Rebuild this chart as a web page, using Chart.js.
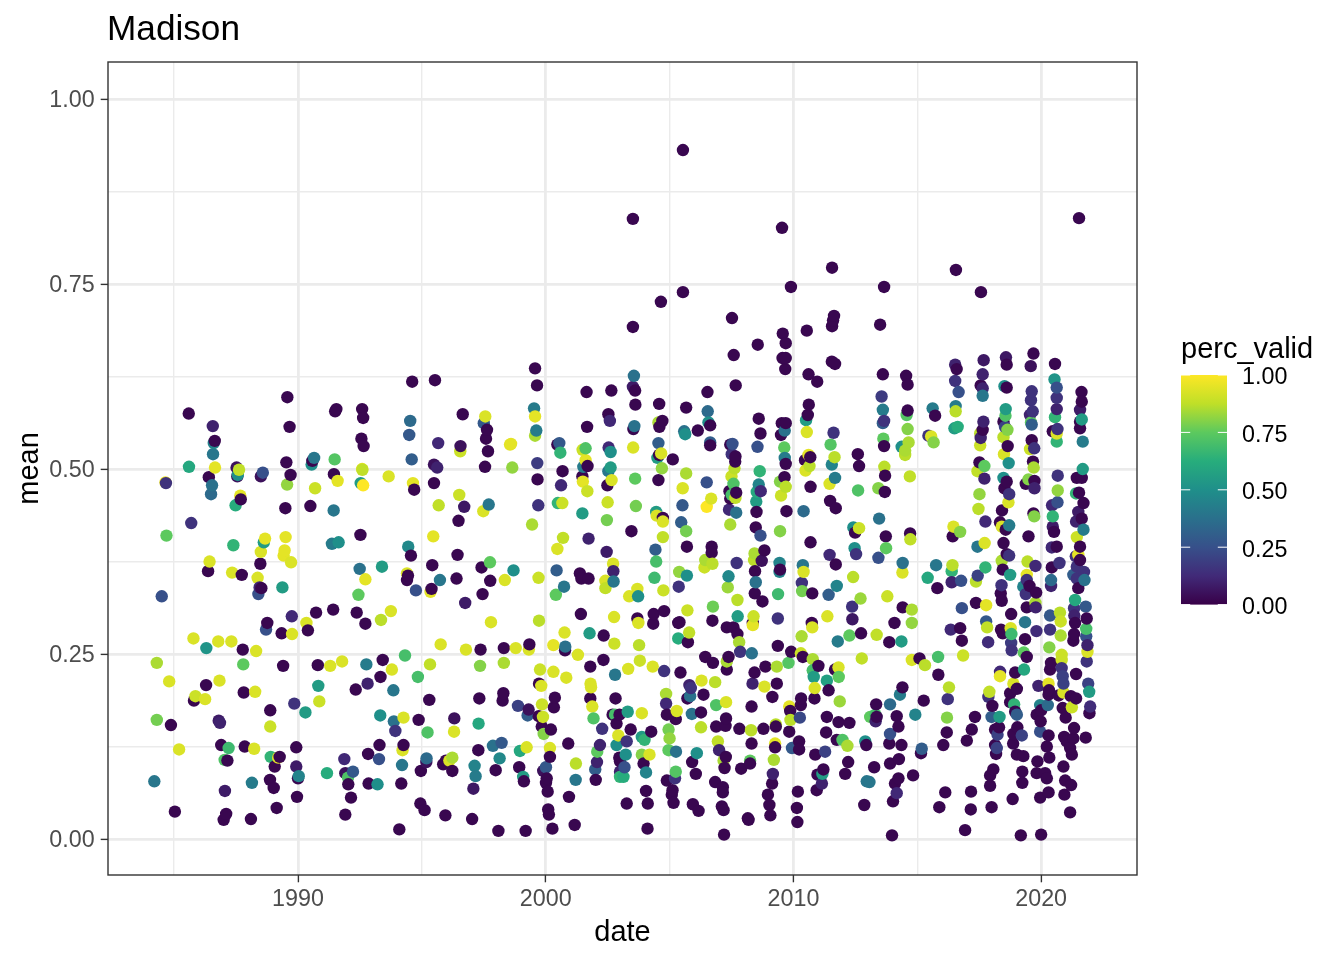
<!DOCTYPE html>
<html lang="en">
<head>
<meta charset="UTF-8" />
<title>Madison</title>
<script src="https://cdn.jsdelivr.net/npm/chart.js"></script>
<style>
  html, body { margin: 0; background: #fff; }
  canvas { display: block; }
</style>
</head>
<body>
<canvas id="chart" width="1344" height="960"></canvas>
<script>
// values, one block per stretch of years
const dates1 = [
  1984.2,1984.3,1984.3,1984.5,1984.65,1984.67,1984.69,1984.8,1984.87,1985.03,
  1985.2,1985.59,1985.6,1985.69,1985.78,1985.8,1985.86,1986.25,1986.29,1986.3,
  1986.37,1986.43,1986.4,1986.49,1986.53,1986.57,1986.6,1986.64,1986.56,1986.65,
  1986.78,1986.83,1986.8,1986.85,1986.9,1987.04,1987.15,1987.2,1987.05,1987.1,
  1987.0,1987.31,1987.34,1987.39,1987.48,1987.52,1987.55,1987.57,1987.62,1987.67,
  1987.69,1987.73,1987.77,1987.79,1987.81,1987.85,1988.1,1988.14,1988.23,1988.27,
  1988.31,1988.37,1988.4,1988.45,1988.52,1988.48,1988.5,1988.62,1988.67,1988.5,
  1988.58,1988.71,1988.76,1988.88,1988.88,1988.9,1989.2,1989.26,1989.06,1988.87,
  1989.34,1989.4,1989.42,1989.46,1989.5,1989.72,1989.49,1989.56,1989.53,1989.7,
  1989.14,1989.02,1989.66,1989.57,1989.37,1989.75,1989.76,1989.85,1989.93,1989.93,
  1990.0,1990.03,1989.96,1990.3,1990.34,1990.4,1990.5,1990.55,1990.58,1990.65,
  1990.69,1990.73,1990.8,1990.82,1990.86,1991.17,1991.3,1991.37,1991.64,1991.44,
  1991.42,1991.45,1991.48,1991.6,1991.5,1991.55,1991.78,1991.87,1991.91,1992.03,
  1992.02,1992.22,1992.14,1991.91,1992.33,1992.37,1992.44,1992.49,1992.52,1992.53,
  1992.59,1992.6,1992.63,1992.56,1992.65,1992.59,1992.63,1992.72,1992.72,1992.76,
  1992.81,1992.83,1992.85
];
const means1 = [
  .078,.161,.238,.328,.482,.481,.41,.213,.154,.037,
  .121,.575,.503,.427,.271,.187,.193,.189,.208,.258,
  .362,.375,.489,.466,.478,.52,.535,.538,.558,.502,
  .267,.214,.16,.157,.127,.107,.106,.123,.065,.034,
  .026,.267,.36,.397,.451,.502,.49,.492,.499,.464,
  .459,.357,.256,.236,.198,.125,.027,.076,.122,.199,
  .254,.353,.331,.34,.339,.372,.388,.401,.406,.49,
  .495,.283,.292,.174,.152,.111,.11,.111,.098,.08,
  .278,.234,.383,.39,.408,.374,.447,.479,.509,.492,
  .042,.069,.557,.597,.34,.301,.277,.183,.124,.098,
  .082,.085,.057,.171,.292,.282,.45,.506,.511,.515,
  .474,.306,.235,.207,.186,.089,.234,.399,.401,.444,
  .31,.493,.513,.484,.578,.581,.24,.108,.089,.074,
  .083,.091,.056,.033,.202,.306,.33,.365,.411,.481,
  .5,.499,.478,.541,.531,.581,.569,.291,.351,.236,
  .21,.115,.075
];
const valid1 = [
  .4,.78,.85,.25,.97,.15,.75,.93,.02,.02,
  .93,.02,.6,.15,.93,.02,.9,.93,.02,.52,
  .02,.93,.02,.35,.38,.4,.45,.02,.1,.95,
  .93,.93,.08,.1,.02,.72,.02,.68,.08,.02,
  .02,.93,.93,.65,.62,.05,.05,.5,.88,.95,
  .02,.02,.02,.75,.02,.02,.02,.42,.93,.93,
  .93,.93,.25,.12,.02,.02,.93,.55,.95,.05,
  .25,.25,.02,.02,.9,.65,.95,.02,.02,.02,
  .02,.02,.95,.95,.95,.93,.02,.82,.02,.02,
  .02,.02,.02,.02,.55,.12,.93,.15,.02,.08,
  .02,.45,.02,.55,.93,.02,.02,.5,.02,.4,
  .9,.02,.02,.55,.9,.62,.93,.42,.5,.4,
  .02,.02,.73,.95,.02,.02,.93,.12,.05,.02,
  .72,.28,.02,.02,.02,.02,.75,.38,.02,.55,
  .95,.88,1,.02,.02,.02,.02,.02,.95,.42,
  .1,.02,.02
];

const dates2 = [
  1993.21,1993.29,1993.27,1993.33,1993.35,1993.39,1993.42,1993.66,1993.75,1993.79,
  1993.85,1993.32,1993.87,1993.93,1994.09,1994.17,1994.2,1994.22,1994.26,1994.26,
  1994.32,1994.4,1994.4,1994.44,1994.45,1994.56,1994.49,1994.53,1994.59,1994.61,
  1994.64,1994.69,1994.76,1994.84,1994.87,1994.94,1995.11,1994.96,1995.18,1995.19,
  1995.23,1995.3,1995.33,1995.35,1995.39,1995.42,1995.46,1995.49,1995.49,1995.62,
  1995.66,1995.53,1995.68,1995.73,1995.76,1995.95,1995.86,1995.97,1996.11,1996.23,
  1996.23,1996.31,1996.3,1996.4,1996.44,1996.48,1996.51,1996.55,1996.56,1996.65,
  1996.71,1996.75,1996.78,1997.03,1997.08,1997.17,1997.13,1997.29,1997.28,1997.32,
  1997.35,1997.37,1997.41,1997.45,1997.48,1997.5,1997.56,1997.63,1997.59,1997.67,
  1997.55,1997.7,1997.75,1997.76,1997.79,1997.87,1997.98,1998.14,1998.22,1998.09,
  1998.26,1998.29,1998.31,1998.31,1998.35,1998.56,1998.6,1998.65,1998.7,1998.79,
  1998.88,1998.93,1998.96,1999.09,1999.12,1999.19,1999.23,1999.27,1999.31,1999.32,
  1999.34,1999.45,1999.53,1999.57,1999.57,1999.62,1999.57,1999.65,1999.66,1999.67,
  1999.7,1999.71,1999.73,1999.73,1999.77,1999.82,1999.85,1999.72,1999.89,1999.84,
  1999.92,2000.21,2000.17,2000.17,2000.01,1999.9,2000.04,2000.01,2000.08,2000.1,
  2000.13,2000.27,2000.31,2000.31,2000.37,2000.33,2000.41,2000.44,2000.47,2000.49,
  2000.55,2000.47,2000.59,2000.62,2000.68,2000.67,2000.7,2000.74,2000.76,2000.79,
  2000.78,2000.83,2000.94,2000.91,2001.17,2001.22,2001.21,2001.3,2001.38,2001.44,
  2001.73,2001.42,2001.48,2001.5,2001.68,2001.61,2001.61,2001.49,2001.48,2001.52,
  2001.69,2001.67,2001.65,2001.73,2001.77,2001.8,2001.81,2001.83,2001.8,2001.88,
  2001.93,2002.28,2002.08,2002.19,2002.07,2002.0,2002.02,2002.34,2002.33,2002.41,
  2002.41,2002.46,2002.47,2002.5,2002.49,2002.53,2002.62,2002.66,2002.62,2002.54,
  2002.59,2002.53,2002.65,2002.72,2002.73,2002.74,2002.76,2002.77,2002.8,2002.82,
  2002.8,2002.7,2002.86,2002.86,2002.93,2002.97,2003.0,2003.0
];
const means2 = [
  .074,.127,.108,.219,.296,.368,.242,.49,.308,.229,
  .201,.167,.159,.146,.013,.075,.1,.12,.127,.164,
  .248,.359,.35,.356,.395,.383,.546,.565,.513,.618,
  .481,.472,.336,.219,.161,.048,.039,.092,.104,.109,
  .144,.188,.236,.334,.338,.37,.409,.481,.506,.502,
  .535,.62,.451,.35,.263,.032,.101,.106,.106,.11,
  .092,.163,.145,.352,.384,.43,.465,.524,.531,.574,
  .449,.319,.256,.027,.068,.085,.099,.156,.12,.19,
  .234,.256,.367,.331,.443,.562,.571,.553,.541,.524,
  .503,.452,.374,.349,.293,.126,.093,.109,.13,.011,
  .187,.197,.238,.258,.35,.533,.534,.502,.363,.258,
  .18,.097,.119,.084,.078,.011,.124,.167,.175,.256,
  .263,.425,.582,.571,.545,.552,.636,.613,.508,.486,
  .451,.353,.295,.21,.229,.207,.182,.166,.165,.152,
  .142,.148,.123,.111,.097,.092,.082,.076,.064,.04,
  .033,.014,.262,.226,.191,.178,.33,.363,.392,.454,
  .535,.533,.522,.478,.497,.454,.407,.341,.279,.26,
  .255,.218,.057,.129,.019,.102,.08,.249,.359,.352,
  .352,.304,.44,.483,.47,.512,.528,.526,.49,.503,
  .504,.557,.604,.406,.278,.233,.21,.205,.19,.179,
  .163,.149,.118,.127,.104,.094,.08,.275,.242,.349,
  .339,.388,.431,.455,.478,.497,.502,.485,.523,.529,
  .565,.574,.606,.372,.362,.348,.3,.264,.222,.19,
  .168,.168,.156,.127,.14,.11,.091,.084
];
const valid2 = [
  .5,.02,.25,.02,.87,.55,.02,.93,.93,.93,
  .4,.5,.38,.15,.02,.02,.4,.93,.02,.93,
  .7,.93,.02,.02,.47,.02,.28,.35,.3,.02,
  .95,.02,.25,.7,.02,.02,.02,.02,.05,.35,
  .72,.02,.88,.95,.02,.02,.95,.02,.05,.1,
  .12,.02,.88,.4,.93,.02,.02,.02,.93,.85,
  .02,.05,.93,.02,.02,.02,.9,.9,.05,.02,
  .07,.08,.93,.02,.07,.42,.45,.6,.02,.02,
  .8,.02,.02,.02,.93,.28,.93,.02,.02,.02,
  .02,.4,.75,.02,.93,.38,.02,.47,.28,.02,
  .02,.02,.85,.02,.93,.95,.95,.82,.5,.93,
  .2,.02,.6,.55,.02,.02,.93,.3,.05,.93,
  .02,.85,.42,.95,.85,.42,.02,.02,.18,.02,
  .15,.9,.87,.02,.9,.93,.9,.02,.9,.02,
  .8,.02,.93,.02,.28,.05,.02,.02,.02,.02,
  .02,.02,.95,.93,.02,.02,.75,.3,.93,.65,
  .28,.02,.65,.12,.02,.9,.88,.4,.93,.38,
  .02,.93,.02,.02,.02,.87,.4,.93,.02,.02,
  .02,.02,.55,.95,.9,.95,.72,.9,.02,.42,
  .02,.02,.02,.1,.55,.02,.93,.93,.02,.93,
  .72,.15,.75,.1,.1,.3,.02,.02,.02,.93,
  .88,.08,.78,.9,.02,.4,.55,.93,.5,.12,
  .12,.02,.02,.93,.1,.4,.93,.9,.4,.02,
  .7,.02,.02,.5,.93,.02,.1,.65
];

const dates3 = [
  2003.27,2003.46,2003.53,2003.56,2003.61,2003.62,2003.58,2003.54,2003.61,2003.64,
  2003.37,2003.7,2003.73,2003.7,2003.74,2003.77,2003.8,2003.33,2003.88,2003.31,
  2002.98,2003.43,2003.27,2003.23,2003.18,2003.14,2003.0,2003.88,2003.99,2004.26,
  2004.05,2004.12,2004.11,2003.95,2003.88,2004.19,2004.05,2004.32,2004.34,2004.36,
  2004.39,2004.46,2004.43,2004.46,2004.48,2004.55,2004.55,2004.51,2004.58,2004.66,
  2004.69,2004.58,2004.59,2004.55,2004.71,2004.73,2004.73,2004.73,2004.75,2004.78,
  2004.78,2004.86,2004.86,2004.89,2005.29,2005.25,2004.96,2005.0,2004.96,2005.26,
  2005.25,2005.22,2004.89,2005.12,2005.09,2005.16,2005.13,2005.35,2005.4,2005.35,
  2005.74,2005.79,2005.37,2005.39,2005.7,2005.7,2005.67,2005.47,2005.52,2005.53,
  2005.67,2005.67,2005.59,2005.63,2005.44,2005.72,2005.8,2005.86,2005.72,2005.83,
  2005.9,2006.1,2005.91,2006.06,2005.94,2006.17,2006.27,2006.27,2006.37,2006.29,
  2006.44,2006.75,2006.84,2006.88,2007.28,2007.28,2006.88,2007.26,2006.95,2007.0,
  2007.27,2007.22,2007.18,2006.84,2007.15,2007.15,2007.11,2007.18,2007.2,2006.54,
  2006.53,2006.14,2006.57,2006.64,2006.64,2006.64,2006.5,2006.68,2006.5,2006.7,
  2006.7,2006.41,2006.44,2006.73,2006.75,2006.73,2007.59,2007.67,2008.56,2007.54,
  2007.45,2007.51,2007.66,2007.65,2007.62,2007.5,2007.58,2007.42,2007.66,2007.69,
  2007.51,2007.45,2007.4,2007.69,2007.45,2007.71,2007.38,2007.35,2007.74,2007.75,
  2007.31,2007.58,2007.74,2007.81,2007.85,2007.38,2007.31,2007.31,2007.82,2007.89,
  2008.16,2008.19,2008.32,2008.43,2008.35,2008.31,2008.29,2008.31,2008.25,2008.25
];
const means3 = [
  .048,.416,.529,.626,.606,.587,.558,.554,.487,.45,
  .328,.338,.328,.298,.292,.262,.241,.23,.17,.172,
  .168,.148,.132,.114,.097,.084,.105,.138,.134,.145,
  .065,.048,.014,.102,.114,.114,.09,.233,.291,.304,
  .353,.375,.391,.442,.437,.485,.535,.515,.519,.521,
  .501,.588,.557,.563,.565,.434,.429,.408,.336,.308,
  .227,.196,.183,.168,.173,.162,.148,.136,.12,.118,
  .091,.082,.079,.066,.06,.049,.513,.292,.293,.271,
  .266,.279,.341,.361,.356,.395,.416,.428,.451,.474,
  .494,.583,.551,.547,.225,.309,.208,.204,.19,.193,
  .169,.116,.104,.088,.047,.038,.151,.171,.195,.214,
  .246,.238,.212,.181,.185,.163,.152,.153,.132,.12,
  .111,.096,.106,.077,.07,.063,.044,.039,.006,.578,
  .604,.552,.563,.559,.536,.532,.482,.46,.449,.395,
  .387,.367,.377,.372,.314,.295,.654,.613,.668,.534,
  .533,.52,.517,.51,.501,.49,.48,.47,.461,.468,
  .465,.46,.445,.441,.425,.373,.355,.34,.323,.301,
  .286,.286,.277,.266,.253,.246,.229,.24,.149,.095,
  .028,.026,.251,.225,.21,.179,.147,.129,.106,.102
];
const valid3 = [
  .02,.02,.93,.38,.02,.02,.38,.02,.75,.78,
  .93,.93,.5,.02,.93,.87,.9,.93,.93,.55,
  .02,.02,.15,.5,.25,.62,.02,.55,.65,.02,
  .02,.02,.02,.02,.8,.93,.45,.93,.02,.02,
  .68,.7,.3,.55,.93,.02,.3,.55,.02,.93,
  .82,.02,.02,.85,.02,.02,.93,.88,.9,.02,
  .15,.85,.12,.02,.93,.02,.78,.82,.75,.38,
  .73,.15,.02,.02,.02,.02,.02,.02,.02,.62,
  .02,.88,.15,.82,.5,.02,.78,.3,.28,.93,
  .85,.02,.38,.5,.02,.9,.1,.15,.02,.38,
  .38,.5,.02,.02,.02,.02,.87,.02,.02,.93,
  .02,.02,.87,.72,.93,.02,.02,.02,.88,.1,
  .02,.02,.85,.02,.02,.02,.02,.02,.02,.35,
  .02,.02,.5,.02,.3,.02,.25,.93,1,.02,
  .02,.9,.85,.87,.77,.02,.02,.02,.02,.25,
  .02,.15,.02,.02,.87,.9,.72,.02,.88,.02,
  .7,.02,.12,.38,.85,.15,.47,.83,.87,.55,
  .02,.02,.02,.85,.15,.02,.02,.85,.02,.02,
  .02,.02,.38,.02,.1,.02,.87,.02,.75,.02
];

const dates4 = [
  2008.83,2008.87,2008.79,2008.55,2008.67,2008.6,2008.64,2008.6,2008.52,2008.68,
  2008.5,2008.51,2008.48,2008.67,2008.43,2008.83,2008.72,2008.41,2008.45,2008.48,
  2008.44,2008.75,2008.39,2008.36,2008.36,2009.37,2009.37,2009.38,2009.44,2009.44,
  2009.46,2009.46,2009.5,2009.69,2009.46,2009.64,2009.72,2009.69,2009.65,2009.63,
  2009.65,2009.5,2009.53,2009.69,2009.67,2009.56,2009.69,2009.69,2009.57,2009.33,
  2009.33,2009.15,2009.29,2009.29,2009.26,2009.26,2009.21,2009.17,2009.14,2008.97,
  2009.03,2009.07,2009.91,2009.8,2010.3,2010.38,2010.31,2010.3,2009.83,2009.87,
  2009.88,2010.26,2009.83,2009.94,2010.23,2010.23,2010.18,2010.14,2010.16,2010.41,
  2010.54,2010.51,2010.58,2010.62,2010.61,2010.96,2010.54,2010.61,2010.68,2010.47,
  2010.65,2010.49,2010.69,2010.69,2010.38,2010.41,2010.34,2010.35,2010.76,2010.74,
  2010.76,2010.33,2010.78,2011.01,2010.78,2010.82,2010.86,2010.85,2011.35,2011.42,
  2011.35,2011.32,2011.28,2011.21,2011.17,2011.15,2010.94,2010.97,2010.88,2011.37,
  2011.42,2011.46,2011.75,2011.71,2011.82,2011.83,2011.68,2011.87,2011.82,2012.26,
  2011.75,2011.98,2012.18,2012.21,2012.09,2011.79,2012.26,2012.37,2012.38,2012.71,
  2012.41,2012.47,2012.53,2012.42,2012.49,2012.65,2012.73,2012.76,2011.5,2011.62,
  2011.66,2011.55,2011.68,2011.46,2011.48,2011.71,2012.6,2012.65,2012.61,2011.55,
  2011.68,2012.94,2012.9,2012.96,2012.86,2013.1
];
const means4 = [
  .206,.233,.149,.53,.548,.568,.497,.479,.469,.47,
  .456,.442,.421,.41,.386,.39,.376,.377,.362,.347,
  .332,.321,.301,.292,.289,.298,.261,.331,.373,.361,
  .364,.416,.464,.476,.483,.489,.443,.507,.515,.529,
  .552,.546,.562,.562,.635,.65,.65,.67,.683,.233,
  .21,.192,.155,.152,.129,.124,.107,.088,.075,.06,
  .046,.032,.253,.238,.251,.246,.19,.181,.179,.173,
  .161,.164,.145,.123,.132,.121,.064,.042,.023,.443,
  .55,.566,.573,.587,.628,.618,.687,.519,.516,.512,
  .504,.498,.476,.401,.37,.361,.346,.335,.332,.292,
  .286,.274,.243,.234,.228,.219,.204,.19,.214,.201,
  .165,.144,.118,.094,.088,.075,.066,.087,.114,.301,
  .33,.384,.342,.371,.232,.219,.229,.186,.158,.157,
  .134,.134,.126,.104,.088,.267,.275,.314,.297,.325,
  .354,.393,.385,.421,.414,.42,.278,.244,.533,.549,
  .516,.506,.488,.48,.457,.447,.52,.504,.471,.645,
  .642,.127,.132,.078,.046,.165
];
const valid4 = [
  .93,.02,.02,.25,.02,.02,.65,.45,.6,.12,
  .55,.02,.02,.25,.85,.02,.05,.87,.02,.38,
  .02,.02,.9,.02,.95,.15,.02,.68,.45,.45,
  .02,.8,.9,.87,.8,.02,.02,.02,.42,.75,
  .38,.02,.02,.02,.02,.02,.02,.02,.02,.85,
  .02,.02,.87,.02,.95,.02,.85,.1,.02,.02,
  .02,.02,.02,.73,.9,.02,.02,.02,.95,.02,
  .87,.22,.02,.28,.02,.02,.02,.02,.02,.35,
  .93,.55,.02,.02,.02,.02,.02,.95,.02,.02,
  .87,.93,.02,.02,.4,.93,.15,.78,.02,.02,
  .93,.85,.85,.02,.7,.55,.93,.02,.57,.02,
  .02,.02,.2,.02,.55,.1,.02,.02,.02,.93,
  .3,.12,.45,.02,.93,.75,.02,.83,.02,.02,
  .02,.72,.85,.02,.02,.42,.75,.15,.07,.83,
  .87,.5,.15,.5,.02,.9,.02,.88,.73,.15,
  .87,.45,.42,.93,.02,.02,.02,.02,.72,.02,
  .02,.02,.5,.4,.02,.75
];

const dates5 = [
  2013.07,2013.26,2013.36,2013.31,2013.36,2013.32,2013.34,2013.43,2013.46,2013.43,
  2013.56,2013.61,2013.61,2013.61,2013.66,2013.63,2013.66,2013.67,2013.7,2013.69,
  2013.73,2013.74,2013.79,2013.87,2013.9,2013.9,2013.87,2013.9,2013.98,2014.02,
  2014.08,2014.1,2014.17,2014.17,2014.24,2014.26,2014.24,2014.36,2014.36,2014.3,
  2014.4,2014.4,2014.41,2014.41,2014.37,2014.51,2014.51,2014.65,2014.57,2014.61,
  2014.61,2014.55,2014.61,2014.7,2014.71,2014.72,2014.78,2014.78,2014.83,2014.78,
  2015.09,2015.31,2015.15,2015.18,2015.26,2014.92,2015.42,2015.45,2015.56,2015.66,
  2015.62,2015.72,2015.76,2015.81,2015.84,2015.85,2015.89,2016.05,2016.13,2016.19,
  2016.2,2016.23,2016.28,2016.35,2016.43,2016.46,2016.73,2016.39,2016.42,2016.39,
  2016.77,2016.53,2016.59,2016.53,2016.67,2016.55,2016.55,2016.5,2016.63,2016.73,
  2016.8,2016.85,2016.93,2017.0,2017.2,2017.33,2017.17,2017.16,2016.8,2017.37,
  2017.78,2017.37,2017.44,2017.43,2017.72,2017.75,2017.47,2017.51,2017.71,2017.43,
  2017.71,2017.51,2017.54,2017.56,2017.64,2017.54,2017.67,2017.68,2017.64,2017.56,
  2017.64,2017.64,2017.75,2017.78,2017.82,2017.86,2017.91,2017.87,2018.03,2018.0,
  2018.32,2018.07,2017.94,2017.94,2018.0,2018.14,2018.3,2018.24,2018.14,2018.21,
  2018.18,2018.34,2018.34,2018.38,2018.45,2018.4,2018.37,2018.41,2018.45,2018.41,
  2018.48,2018.61,2018.71,2018.75,2018.34,2018.41,2018.57,2018.71,2018.42,2018.68,
  2018.71,2018.52,2018.61,2018.48,2018.69,2018.65,2018.5,2018.48,2018.64,2018.54,
  2018.48,2018.56,2018.57,2018.52,2018.61,2018.61,2018.58
];
const means5 = [
  .077,.097,.276,.168,.165,.159,.182,.38,.433,.474,
  .598,.628,.58,.562,.565,.541,.531,.503,.491,.469,
  .409,.393,.328,.266,.182,.142,.129,.102,.005,.051,
  .292,.075,.062,.166,.152,.108,.082,.127,.267,.195,
  .205,.36,.373,.313,.53,.519,.525,.536,.573,.579,
  .554,.626,.614,.49,.413,.405,.31,.292,.086,.242,
  .244,.235,.116,.122,.187,.168,.353,.545,.544,.536,
  .582,.572,.37,.339,.246,.222,.043,.127,.063,.144,
  .164,.189,.205,.283,.409,.422,.415,.362,.37,.347,
  .349,.641,.635,.619,.604,.585,.578,.555,.557,.285,
  .268,.248,.012,.133,.148,.165,.064,.04,.312,.319,
  .316,.348,.356,.395,.4,.429,.446,.466,.504,.497,
  .487,.509,.532,.542,.553,.548,.564,.647,.628,.613,
  .609,.599,.367,.294,.286,.266,.199,.192,.18,.165,
  .165,.094,.086,.072,.043,.148,.151,.141,.127,.123,
  .115,.226,.22,.283,.278,.343,.332,.322,.364,.376,
  .4,.385,.383,.357,.428,.422,.418,.424,.444,.455,
  .466,.474,.483,.488,.508,.531,.52,.543,.553,.557,
  .564,.572,.581,.612,.61,.641,.651
];
const valid5 = [
  .4,.02,.88,.7,.02,.1,.02,.25,.38,.8,
  .18,.02,.42,.3,.15,.75,.02,.87,.02,.02,
  .02,.75,.9,.02,.35,.25,.02,.02,.02,.02,
  .02,.02,.12,.02,.02,.02,.02,.02,.55,.42,
  .02,.93,.38,.02,.5,.87,.85,.85,.73,.02,
  .8,.02,.02,.88,.02,.88,.85,.82,.02,.93,
  .02,.87,.02,.3,.02,.45,.6,.15,.93,.8,
  .42,.02,.4,.02,.7,.02,.02,.02,.02,.02,
  .8,.15,.87,.12,.02,.93,.8,.65,.87,.1,
  .25,.1,.02,.15,.25,.42,.87,.55,.62,.02,
  .02,.9,.02,.02,.02,.02,.02,.02,.25,.02,
  .95,.87,.2,.4,.93,.12,.87,.82,.75,.88,
  .1,.02,.9,.1,.02,.87,.1,.07,.1,.02,
  .1,.4,.65,.28,.88,.13,.88,.15,.02,.3,
  .55,.02,.02,.02,.02,.02,.02,.2,.02,.2,
  .02,.12,.95,.02,.02,.15,.02,.02,.02,.85,
  .02,.02,.15,.55,.02,.93,.02,.42,.02,.93,
  .15,.02,.02,.5,.5,.02,.93,.87,.8,.2,
  .02,.72,.55,.5,.02,.02,.07
];

const dates6 = [
  2018.79,2018.77,2018.8,2018.79,2018.81,2018.85,2018.88,2019.02,2018.75,2018.75,
  2018.91,2019.02,2018.95,2019.04,2018.88,2019.22,2018.87,2019.02,2019.28,2019.24,
  2019.24,2019.18,2019.3,2019.31,2019.42,2018.95,2019.35,2019.35,2019.42,2019.49,
  2019.72,2019.69,2019.45,2019.77,2019.42,2019.42,2019.28,2019.53,2019.38,2019.8,
  2019.77,2019.78,2019.81,2019.38,2019.49,2019.73,2019.73,2019.7,2019.67,2019.55,
  2019.72,2019.62,2019.62,2019.59,2019.66,2019.55,2019.59,2019.62,2019.58,2019.69,
  2019.89,2020.3,2020.32,2020.3,2020.71,2020.9,2019.96,2020.27,2020.0,2019.82,
  2019.98,2019.96,2020.3,2020.23,2020.33,2019.85,2019.82,2020.16,2020.23,2020.3,
  2019.96,2020.0,2020.36,2020.4,2020.83,2020.83,2020.33,2020.36,2020.79,2020.79,
  2020.76,2020.36,2020.63,2020.43,2020.43,2020.74,2020.4,2020.4,2020.52,2020.47,
  2020.47,2020.66,2020.44,2020.67,2020.67,2020.63,2020.63,2020.66,2020.47,2020.63,
  2020.56,2020.63,2020.63,2020.54,2020.56,2020.83,2020.87,2020.9,2020.9,2020.97,
  2021.21,2020.94,2021.17,2020.87,2020.99,2021.24,2021.2,2021.41,2021.41,2021.33,
  2020.93,2021.3,2021.03,2021.17,2021.24,2021.8,2021.95,2021.98,2021.9,2021.94,
  2021.84,2021.87,2021.87,2021.82,2021.82,2021.84,2021.8,2021.37,2021.33,2021.34,
  2021.37,2021.33,2021.3,2021.5,2021.75,2021.44,2021.3,2021.73,2021.44,2021.57,
  2021.4,2021.5,2021.57,2021.44,2021.71,2021.41,2021.64,2021.5,2021.71,2021.53,
  2021.41,2021.44,2021.64,2021.68,2021.68,2021.57,2021.64,2021.57,2021.64,2021.63,
  2021.57
];
const means6 = [
  .304,.285,.277,.265,.255,.054,.21,.203,.197,.185,
  .182,.168,.172,.151,.142,.14,.129,.114,.112,.091,
  .076,.005,.252,.229,.246,.225,.27,.293,.313,.409,
  .436,.44,.375,.369,.357,.35,.341,.342,.331,.333,
  .319,.313,.281,.48,.486,.484,.474,.502,.51,.527,
  .528,.539,.56,.563,.578,.573,.593,.605,.639,.656,
  .207,.21,.201,.195,.194,.198,.181,.181,.174,.168,
  .159,.145,.14,.125,.11,.105,.089,.089,.082,.063,
  .056,.006,.229,.238,.249,.242,.259,.283,.275,.294,
  .306,.302,.395,.394,.367,.373,.342,.35,.415,.422,
  .436,.455,.451,.471,.491,.537,.548,.554,.551,.581,
  .57,.596,.61,.621,.642,.231,.22,.21,.098,.079,
  .073,.06,.036,.177,.164,.178,.193,.19,.223,.15,
  .138,.136,.132,.123,.114,.137,.17,.179,.21,.199,
  .24,.253,.262,.274,.284,.298,.314,.323,.312,.302,
  .292,.277,.268,.339,.35,.352,.357,.361,.368,.377,
  .382,.384,.395,.408,.418,.429,.433,.442,.454,.468,
  .467,.488,.488,.5,.537,.555,.567,.58,.591,.604,
  .564
];
const valid6 = [
  .02,.93,.68,.18,.15,.02,.93,.02,.02,.02,
  .65,.3,.02,.02,.02,.2,.02,.02,.02,.02,
  .02,.02,.75,.6,.02,.02,.02,.4,.02,.02,
  .8,.02,.87,.12,.95,.15,.45,.02,.15,.02,
  .85,.1,.13,.02,.8,.02,.1,.85,.02,.9,
  .15,.02,.3,.75,.15,.1,.15,.15,.05,.02,
  .1,.95,.02,.02,.02,.93,.45,.35,.02,.02,
  .02,.25,.02,.02,.02,.02,.02,.02,.02,.02,
  .02,.02,.02,.02,.9,.9,.8,.15,.85,.9,
  .87,.28,.02,.12,.02,.15,.1,.35,.02,.08,
  .65,.25,.12,.82,.15,.65,.93,.15,.02,.1,
  .65,.15,.25,.52,.02,.15,.2,.2,.02,.02,
  .02,.02,.02,.02,.02,.9,.02,.02,.02,.02,
  .02,.02,.02,.02,.02,.02,.02,.13,.2,.55,
  .15,.93,.1,.25,.7,.02,.28,.6,.15,.1,
  .02,.02,.02,.02,.38,.15,.3,.15,.15,.02,
  .15,.95,.02,.9,.42,.1,.02,.08,.02,.02,
  .65,.02,.02,.55,.42,.02,.55,.08,.02,.02,
  .02
];

const dates7 = [2005.54,2003.52,2003.52,2004.65,2005.54,2007.52,2009.54,2009.9,2011.56,2011.64,2011.6,2011.56,2013.66,2013.5,2016.56,2017.57,2021.53,2003.52];
const means7 = [.931,.838,.692,.726,.739,.704,.826,.746,.772,.707,.701,.693,.746,.695,.769,.739,.839,.611];
const valid7 = [.02,.02,.02,.02,.02,.02,.02,.02,.02,.02,.02,.02,.02,.02,.02,.02,.02,.08];

const xTicks = [1990, 2000, 2010, 2020];
const yTicks = [0, 0.25, 0.5, 0.75, 1];
const legendTicks = [0, 0.25, 0.5, 0.75, 1];

const viridis = ['#380048','#412a78','#37508a','#2a708c','#1f8f8a','#27ad7c','#5cc95e','#bfdf28','#fde725'];
const viridisStops = [0, .125, .25, .375, .5, .625, .75, .875, 1];

function hex(c) {
  return [1, 3, 5].map(i => parseInt(c.slice(i, i + 2), 16));
}
function colorFor(v) {
  let i = 0;
  while (i < viridis.length - 2 && v > viridisStops[i + 1]) i++;
  const t = (v - viridisStops[i]) / (viridisStops[i + 1] - viridisStops[i]);
  const a = hex(viridis[i]), b = hex(viridis[i + 1]);
  return `rgb(${a.map((n, k) => Math.round(n + (b[k] - n) * t)).join(',')})`;
}

const blocks = [
  [dates1, means1, valid1], [dates2, means2, valid2], [dates3, means3, valid3],
  [dates4, means4, valid4], [dates5, means5, valid5], [dates6, means6, valid6],
  [dates7, means7, valid7]
];
const points = [];
blocks.forEach((b, n) => {
  if (b[0].length !== b[1].length || b[0].length !== b[2].length) {
    throw new Error(`block ${n + 1}: ${b[0].length} ${b[1].length} ${b[2].length}`);
  }
  b[0].forEach((d, i) => points.push({ x: d, y: b[1][i], v: b[2][i] }));
});
points.sort((a, b) => a.x - b.x);

const font = 'Liberation Sans, Arial, sans-serif';

const ggExtras = {
  id: 'ggExtras',
  afterDatasetsDraw(chart) {
    const { ctx, chartArea: a } = chart;
    ctx.save();
    ctx.strokeStyle = '#333333';
    ctx.lineWidth = 1.4;
    ctx.strokeRect(a.left, a.top, a.right - a.left, a.bottom - a.top);

    ctx.fillStyle = '#000';
    ctx.textBaseline = 'alphabetic';
    ctx.textAlign = 'left';
    ctx.font = `35.2px ${font}`;
    ctx.fillText('Madison', 107, 40);

    // colour bar
    ctx.font = `29px ${font}`;
    ctx.fillText('perc_valid', 1181, 358);
    const top = 375, bottom = 604.6, left = 1181, right = 1227;
    const g = ctx.createLinearGradient(0, bottom, 0, top);
    viridis.forEach((c, i) => g.addColorStop(viridisStops[i], c));
    ctx.fillStyle = g;
    ctx.fillRect(left, top, right - left, bottom - top);
    ctx.strokeStyle = '#fff';
    ctx.lineWidth = 1;
    ctx.font = `23.3px ${font}`;
    ctx.textBaseline = 'middle';
    ctx.fillStyle = '#000';
    legendTicks.forEach(t => {
      const y = bottom - t * (bottom - top);
      ctx.beginPath();
      ctx.moveTo(left, y); ctx.lineTo(left + 9.2, y);
      ctx.moveTo(right - 9.2, y); ctx.lineTo(right, y);
      ctx.stroke();
      ctx.fillText(t.toFixed(2), 1242, y + 3);
    });
    ctx.restore();
  }
};

const isMajor = (list, v) => list.some(t => Math.abs(t - v) < 1e-6);
const gridFor = list => ({
  color: '#EBEBEB',
  lineWidth: c => isMajor(list, c.tick.value) ? 2.8 : 1.4,
  tickColor: c => isMajor(list, c.tick.value) ? '#333333' : 'rgba(0,0,0,0)',
  tickWidth: 1.4,
  tickLength: 7.3,
  drawOnChartArea: true
});

new Chart(document.getElementById('chart'), {
  type: 'scatter',
  data: {
    datasets: [{
      data: points,
      pointRadius: 6.2,
      pointHoverRadius: 6.2,
      pointBorderWidth: 0,
      pointBackgroundColor: points.map(p => colorFor(p.v))
    }]
  },
  plugins: [ggExtras],
  options: {
    responsive: false,
    animation: false,
    devicePixelRatio: 1,
    layout: { padding: { top: 62, right: 207, left: 0, bottom: 0 } },
    plugins: { legend: { display: false }, title: { display: false }, tooltip: { enabled: false } },
    scales: {
      x: {
        type: 'linear',
        min: 1982.33,
        max: 2023.87,
        afterFit(s) { s.height = 85; },
        border: { display: false },
        grid: gridFor(xTicks),
        ticks: {
          stepSize: 5,
          includeBounds: false,
          autoSkip: false,
          maxRotation: 0,
          padding: 3,
          color: '#4D4D4D',
          font: { family: font, size: 23.3 },
          callback: v => isMajor(xTicks, v) ? String(v) : ''
        },
        title: {
          display: true, text: 'date', color: '#000',
          font: { family: font, size: 29 }, padding: { top: 0, bottom: 10 }
        }
      },
      y: {
        min: -0.0486,
        max: 1.05,
        afterFit(s) { s.width = 108; },
        border: { display: false },
        grid: gridFor(yTicks),
        ticks: {
          stepSize: 0.125,
          includeBounds: false,
          autoSkip: false,
          padding: 6,
          labelOffset: 2,
          color: '#4D4D4D',
          font: { family: font, size: 23.3 },
          callback: v => isMajor(yTicks, v) ? v.toFixed(2) : ''
        },
        title: {
          display: true, text: 'mean', color: '#000',
          font: { family: font, size: 29 }, padding: { top: 13, bottom: 0 }
        }
      }
    }
  }
});
</script>
</body>
</html>
